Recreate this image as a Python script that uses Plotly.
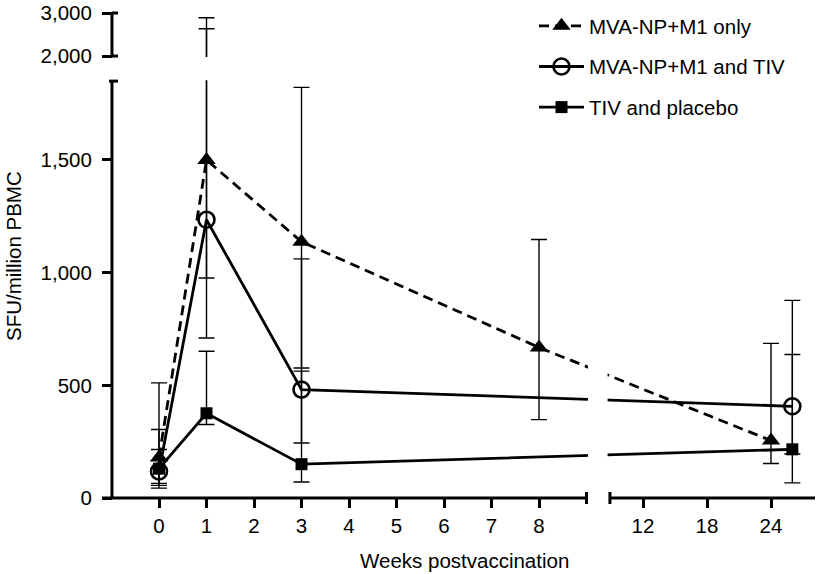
import plotly.graph_objects as go

# ---------------- data ----------------
series_names = ["MVA-NP+M1 only", "MVA-NP+M1 and TIV", "TIV and placebo"]

weeks_tri = [0, 1, 3, 8, 24]
mean_tri = [180, 1500, 1137, 668, 255]
low_tri = [65, 710, 577, 348, 153]
high_tri = [511, 2890, 1822, 1147, 686]

weeks_circ = [0, 1, 3, 26]
mean_circ = [118, 1235, 481, 407]
low_circ = [44, 976, 244, 67]
high_circ = [304, 2635, 1061, 877]

weeks_sq = [0, 1, 3, 26]
mean_sq = [130, 376, 150, 216]
low_sq = [56, 326, 71, 195]
high_sq = [215, 651, 563, 637]

x_ticks_left = [0, 1, 2, 3, 4, 5, 6, 7, 8]
x_ticks_right = [12, 18, 24]
y_ticks = [0, 500, 1000, 1500, 2000, 3000]
y_tick_text = ["0", "500", "1,000", "1,500", "2,000", "3,000"]

# ---------------- broken-axis transforms ----------------
RIGHT_SCALE = 10.667 / 47.5      # right segment compression (weeks)
UPPER_SCALE = 0.043 / 0.2252     # upper segment compression (SFU)


def xt(w):
    if w < 10:
        return w
    return 10.189 + (w - 12) * RIGHT_SCALE


def xt_right(w):
    return 10.189 + (w - 12) * RIGHT_SCALE


def yt(v):
    if v <= 1900:
        return v
    return 1961.3 + (v - 2000) * UPPER_SCALE


W, H = 819, 574
ML, MR, MT, MB = 102, 4, 13, 76
xr = [-1.2, 13.81]
yr = [0, yt(3000)]


def pxx(X):
    return (X - xr[0]) / (xr[1] - xr[0])


def pyy(Y):
    return (Y - yr[0]) / (yr[1] - yr[0])


def px_to_dx(px):
    return px * (xr[1] - xr[0]) / (W - ML - MR)


def px_to_dy(px):
    return px * (yr[1] - yr[0]) / (H - MT - MB)


fig = go.Figure()


def add_series(name, weeks, mean, low, high, marker, dash, group):
    X = [xt(w) for w in weeks]
    Y = [yt(v) for v in mean]
    up = [yt(h) - yt(m) for h, m in zip(high, mean)]
    dn = [yt(m) - yt(l) for m, l in zip(mean, low)]
    fig.add_trace(go.Scatter(
        x=X, y=Y, name=name, mode="lines+markers",
        legendgroup=group,
        line=dict(color="black", width=2.8, dash=dash),
        marker=marker,
        error_y=dict(type="data", symmetric=False, array=up, arrayminus=dn,
                     color="black", thickness=1.4, width=8),
    ))


add_series(series_names[0], weeks_tri, mean_tri, low_tri, high_tri,
           dict(symbol="triangle-up", size=16, color="black"), "10px,6px", "a")
add_series(series_names[1], weeks_circ, mean_circ, low_circ, high_circ,
           dict(symbol="circle-open", size=16, color="black", line=dict(width=2.6, color="black")),
           "solid", "b")
add_series(series_names[2], weeks_sq, mean_sq, low_sq, high_sq,
           dict(symbol="square", size=12, color="black"), "solid", "c")

# ---------------- axis decorations (broken axes) ----------------
X_YAX = -0.99
LEFT_END = 9.0
RIGHT_START = xt_right(8.9)
LOWER_TOP = 1850
UPPER_BOTTOM = yt(2000)
UPPER_TOP = yt(3000)

shapes = []
white = dict(type="rect", layer="above", line=dict(width=0), fillcolor="white",
             xref="paper", yref="paper")
# gap in lines at x-break
shapes.append(dict(white, x0=pxx(LEFT_END + 0.03), x1=pxx(RIGHT_START - 0.05),
                   y0=pyy(0) + 0.015, y1=pyy(1500)))
# gap in whisker at y-break
shapes.append(dict(white, x0=pxx(X_YAX + 0.2), x1=pxx(5), y0=pyy(LOWER_TOP + 4), y1=pyy(UPPER_BOTTOM - 4)))

ax = dict(type="line", layer="above", line=dict(color="black", width=3), xref="paper", yref="paper")
# y axis lower segment
shapes.append(dict(ax, x0=pxx(X_YAX), x1=pxx(X_YAX), y0=pyy(0), y1=pyy(LOWER_TOP)))
shapes.append(dict(ax, x0=pxx(X_YAX - px_to_dx(3)), x1=pxx(X_YAX + px_to_dx(6)), y0=pyy(LOWER_TOP), y1=pyy(LOWER_TOP)))
# y axis upper segment
shapes.append(dict(ax, x0=pxx(X_YAX), x1=pxx(X_YAX), y0=pyy(UPPER_BOTTOM), y1=pyy(UPPER_TOP)))
shapes.append(dict(ax, x0=pxx(X_YAX), x1=pxx(X_YAX + px_to_dx(6)), y0=pyy(UPPER_BOTTOM), y1=pyy(UPPER_BOTTOM)))
shapes.append(dict(ax, x0=pxx(X_YAX), x1=pxx(X_YAX + px_to_dx(6)), y0=pyy(UPPER_TOP), y1=pyy(UPPER_TOP)))
# x axis left segment
shapes.append(dict(ax, x0=pxx(xr[0]), x1=pxx(LEFT_END), y0=pyy(0), y1=pyy(0)))
shapes.append(dict(ax, x0=pxx(LEFT_END), x1=pxx(LEFT_END), y0=pyy(-px_to_dy(6)), y1=pyy(px_to_dy(6))))
# x axis right segment
shapes.append(dict(ax, x0=pxx(RIGHT_START), x1=pxx(xr[1]), y0=pyy(0), y1=pyy(0)))
shapes.append(dict(ax, x0=pxx(RIGHT_START), x1=pxx(RIGHT_START), y0=pyy(-px_to_dy(6)), y1=pyy(px_to_dy(6))))

font = dict(family="Liberation Sans, Arial, Helvetica, sans-serif", size=20.5, color="black")

fig.update_layout(
    width=W, height=H,
    margin=dict(l=ML, r=MR, t=MT, b=MB, autoexpand=False),
    paper_bgcolor="white", plot_bgcolor="white",
    font=font,
    showlegend=True,
    legend=dict(x=pxx(xr[0] + px_to_dx(432)), y=1.0 + 7 / (H - MT - MB), xanchor="left", yanchor="top",
                font=font, itemwidth=45, tracegroupgap=11, traceorder="grouped",
                bgcolor="rgba(0,0,0,0)"),
    xaxis=dict(range=xr, showgrid=False, zeroline=False, showline=False,
               tickvals=[xt(w) for w in x_ticks_left + x_ticks_right],
               ticktext=[str(w) for w in x_ticks_left + x_ticks_right],
               ticks="outside", ticklen=9, tickwidth=3, tickcolor="black",
               tickfont=font),
    yaxis=dict(range=yr, showgrid=False, zeroline=False, showline=False,
               anchor="free", position=pxx(X_YAX),
               tickvals=[yt(v) for v in y_ticks], ticktext=y_tick_text,
               ticks="outside", ticklen=10, tickwidth=3, tickcolor="black",
               tickfont=font, ticklabelstandoff=6),
    shapes=shapes,
    annotations=[
        dict(text="Weeks postvaccination", xref="paper", yref="paper",
             x=pxx(xr[0] + px_to_dx(362)), y=pyy(-px_to_dy(62)),
             xanchor="center", yanchor="middle", showarrow=False, font=font),
        dict(text="SFU/million PBMC", xref="paper", yref="paper",
             x=pxx(xr[0] - px_to_dx(89)), y=pyy(px_to_dy(242)),
             xanchor="center", yanchor="middle", showarrow=False, textangle=-90, font=font),
    ],
)

fig.write_html("out.html", config={"displayModeBar": False},
               post_script="document.body.style.margin='0';")
